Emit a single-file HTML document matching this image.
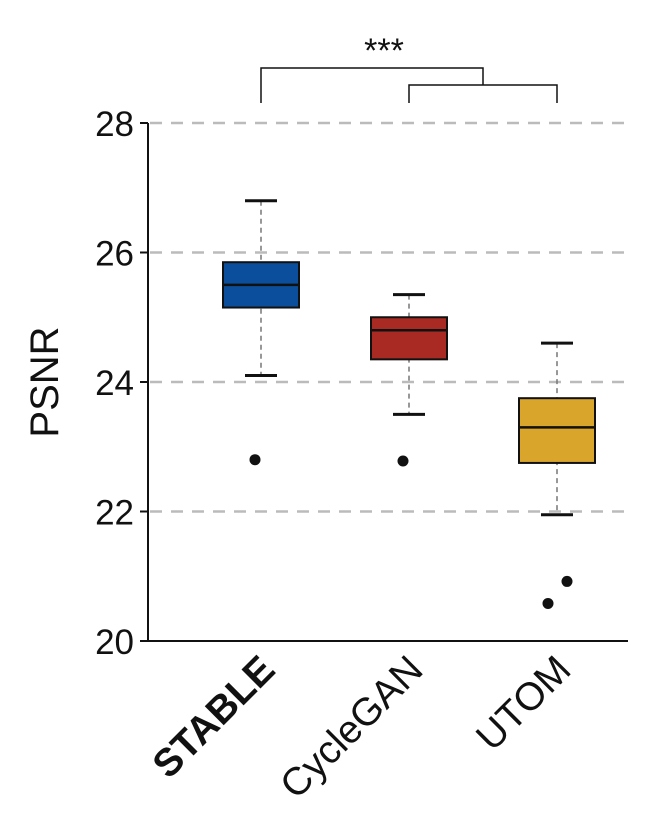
<!DOCTYPE html>
<html><head><meta charset="utf-8"><style>
body{margin:0;background:#fff}
svg{display:block;font-family:"Liberation Sans",sans-serif}
</style></head><body>
<svg id="chart" width="647" height="824"></svg>
<script>
const categories=["STABLE","CycleGAN","UTOM"];
const whiskerHigh=[26.8,25.35,24.6];
const q3=[25.85,25.0,23.75];
const medians=[25.5,24.8,23.3];
const q1=[25.15,24.35,22.75];
const whiskerLow=[24.1,23.5,21.95];
const outliers=[[22.8],[22.78],[20.58,20.92]];
const yTicks=[20,22,24,26,28];
const colors=["#0b4f9c","#a82a22","#d9a52b"];
const NS="http://www.w3.org/2000/svg";
const svg=document.getElementById('chart');
const y=v=>641-(v-20)*64.75;
const x=i=>261+i*148;
function mk(t,a,p){const e=document.createElementNS(NS,t);for(const k in a)e.setAttribute(k,a[k]);(p||svg).appendChild(e);return e;}
yTicks.forEach(t=>{
 if(t>20){const g=mk('line',{x1:150,x2:628,y1:y(t),y2:y(t),stroke:'#bbb','stroke-width':2.5,'stroke-dasharray':'12 9'});
 
 }
 const tk=mk('line',{x1:140,x2:148,y1:y(t),y2:y(t),stroke:'#111','stroke-width':2});
 
 
 const l=mk('text',{x:134,y:y(t)+13,'text-anchor':'end','font-size':35,fill:'#111'});l.textContent=t;
 
 
});
const ax=mk('path',{d:'M148 123 V641 H628',fill:'none',stroke:'#111','stroke-width':2});


const yt=mk('text',{x:0,y:0,transform:'translate(58,382) rotate(-90)','text-anchor':'middle','font-size':40,fill:'#111'});yt.textContent='PSNR';


categories.forEach((c,i)=>{
 const cx=x(i),w=76;
 const wl=mk('line',{x1:cx,x2:cx,y1:y(whiskerHigh[i]),y2:y(whiskerLow[i]),stroke:'#777','stroke-width':1.5,'stroke-dasharray':'5 4'});
 
 
 [whiskerHigh[i],whiskerLow[i]].forEach(v=>{const cap=mk('line',{x1:cx-16,x2:cx+16,y1:y(v),y2:y(v),stroke:'#111','stroke-width':3});
 
 });
 const b=mk('rect',{x:cx-w/2,y:y(q3[i]),width:w,height:y(q1[i])-y(q3[i]),fill:colors[i],stroke:'#111','stroke-width':2});
 
 
 const m=mk('line',{x1:cx-w/2,x2:cx+w/2,y1:y(medians[i]),y2:y(medians[i]),stroke:'#111','stroke-width':2.5});
 
 
 outliers[i].forEach((v,j)=>{const o=mk('circle',{cx:cx+(outliers[i].length>1?(j?10:-9):-6),cy:y(v),r:5.5,fill:'#111'});
 
 });
 const t=mk('text',{x:0,y:0,transform:`translate(${cx+16},${672}) rotate(-45)`,'text-anchor':'end','font-size':39,fill:'#111','font-weight':i==0?'bold':'normal'});t.textContent=c;
 
 
});
const br=mk('path',{d:`M${x(0)} 103 V68 H483 V85 M${x(1)} 103 V85 H${x(2)} V103`,fill:'none',stroke:'#111','stroke-width':1.5});


const st=mk('text',{x:384,y:62,'text-anchor':'middle','font-size':34,fill:'#111'});st.textContent='***';


</script>
</body></html>
